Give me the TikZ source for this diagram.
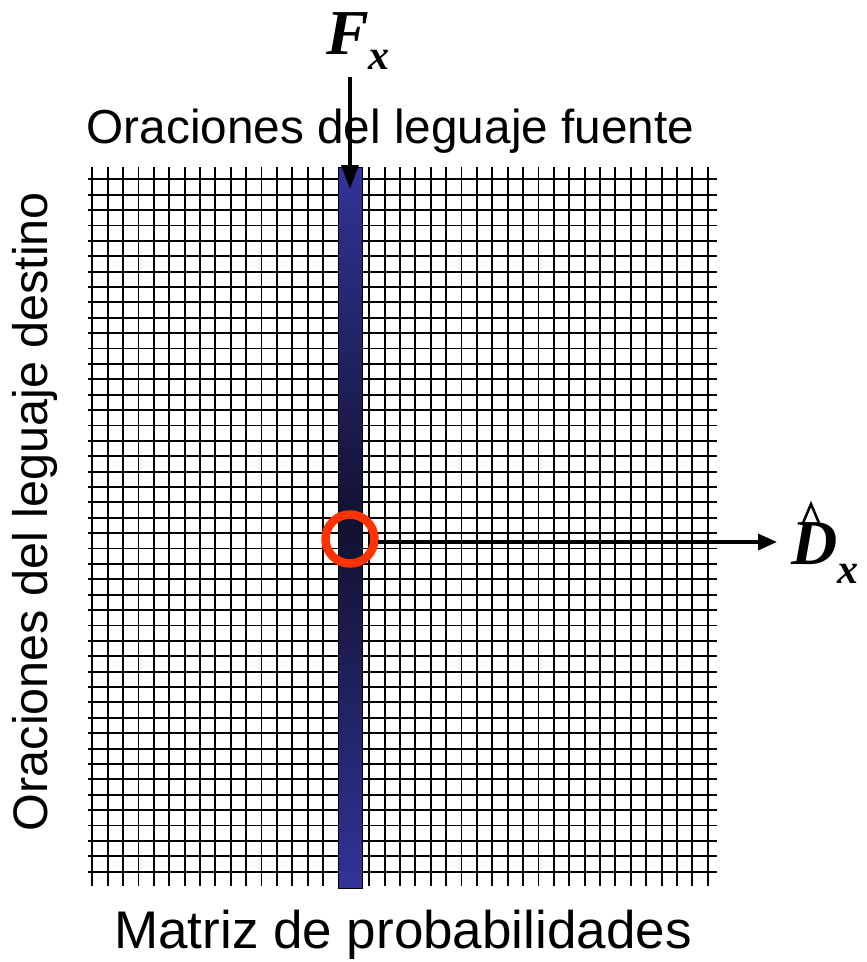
\documentclass[tikz,border=0pt]{standalone}
\usepackage{fontspec}
\setmainfont{Liberation Serif}
\newfontfamily\arial{Liberation Sans}
\usetikzlibrary{arrows.meta}
\definecolor{barblue}{RGB}{51,51,153}
\definecolor{bardark}{RGB}{17,17,48}
\definecolor{ringred}{RGB}{255,51,0}
\begin{document}
\begin{tikzpicture}[x=1pt,y=-1pt,
  gridline/.style={line width=1.9pt,black},
  probbar/.style={draw=black,line width=1pt,rectangle,inner sep=0pt,
     top color=barblue,bottom color=barblue,middle color=bardark},
  ring/.style={circle,draw=ringred,line width=8.5pt,inner sep=0pt,minimum size=49pt},
  arr/.style={line width=3.5pt,-{Triangle[length=24pt,width=17pt]}},
  arrh/.style={line width=3.5pt,-{Triangle[length=19pt,width=16pt]}},
  lbl/.style={font=\arial\fontsize{47.7}{50}\selectfont,inner sep=0pt},
  mathlbl/.style={font=\bfseries\itshape\fontsize{64}{66}\selectfont,inner sep=0pt}
]
\useasboundingbox (0,0) rectangle (867,962);
\foreach \i in {0,...,40}
  \draw[gridline] ({92.3+15.385*\i},167) -- ({92.3+15.385*\i},886);
\foreach \j in {0,...,45}
  \draw[gridline] (88,{179.3+15.385*\j}) -- (716.5,{179.3+15.385*\j});
\node[probbar,minimum width=24pt,minimum height=721pt] (bar) at (350,527.5) {};
\node[ring] (ring) at (350,539) {};
\node[lbl,anchor=base] (top) at (390.5,143) {Oraciones del leguaje fuente};
\node[lbl,anchor=base,font=\arial\fontsize{53}{56}\selectfont] (bottom) at (403,948) {Matriz de probabilidades};
\node[lbl,anchor=base,rotate=90,font=\arial\fontsize{48.5}{50}\selectfont] (left) at (47,511.5) {Oraciones del leguaje destino};
\node[mathlbl,anchor=base west] (F) at (326,54) {F\raisebox{-15pt}{\fontsize{42}{44}\selectfont x}};
\node[mathlbl,anchor=base west] (D) at (791,564) {D\raisebox{-19pt}{\fontsize{42}{44}\selectfont x}};
\draw[line width=2.5pt,line join=miter] (803,523) -- (811,504) -- (819,523);
\coordinate (ftail) at (350,77);
\coordinate (ftip) at (350,189);
\draw[arr] (ftail) -- (ftip);
\coordinate (hstart) at (378,542);
\coordinate (htip) at (777,542);
\draw[arrh] (hstart) -- (htip);
\end{tikzpicture}
\end{document}
